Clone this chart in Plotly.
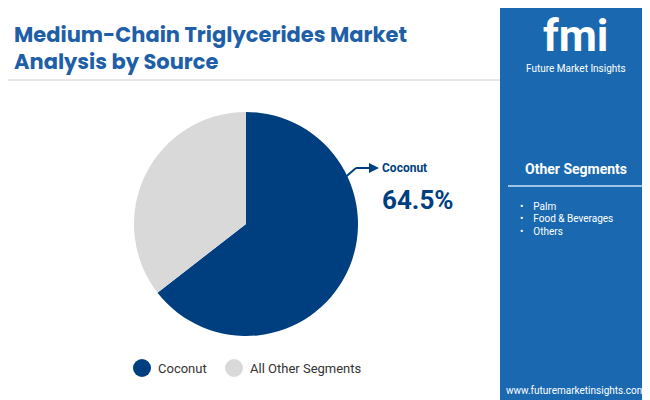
import plotly.graph_objects as go

labels = ['Coconut', 'All Other Segments']
values = [64.5, 35.5]
colors = ['#003f7f', '#d9d9d9']
other_segments = ['Palm', 'Food &amp; Beverages', 'Others']

W, H = 650, 400
def px(x): return x / W
def py(y): return 1 - y / H

fig = go.Figure(go.Pie(
    labels=labels, values=values, marker=dict(colors=colors),
    sort=False, direction='clockwise', rotation=0,
    textinfo='none', hoverinfo='label+percent', showlegend=False,
    domain=dict(x=[px(126), px(350)], y=[py(328), py(104)]),
))

shapes = [
    # right panel
    dict(type='rect', xref='paper', yref='paper', x0=px(492), x1=1, y0=0, y1=1,
         fillcolor='#1a69b0', line_width=0, layer='below'),
    # title underline
    dict(type='line', xref='paper', yref='paper', x0=0, x1=px(492), y0=py(72), y1=py(72),
         line=dict(color='#d0d0d0', width=1)),
    # other segments underline
    dict(type='line', xref='paper', yref='paper', x0=px(500), x1=px(640), y0=py(178), y1=py(178),
         line=dict(color='#9fc3e6', width=2)),
    # bottom stripe
    dict(type='rect', xref='paper', yref='paper', x0=0, x1=px(163), y0=0, y1=py(395),
         fillcolor='#8cc63f', line_width=0),
    dict(type='rect', xref='paper', yref='paper', x0=px(163), x1=px(328), y0=0, y1=py(395),
         fillcolor='#e8572a', line_width=0),
    dict(type='rect', xref='paper', yref='paper', x0=px(328), x1=px(492), y0=0, y1=py(395),
         fillcolor='#7b2d8e', line_width=0),
    # arrow line
    dict(type='line', xref='paper', yref='paper', x0=px(334), x1=px(348), y0=py(172), y1=py(160),
         line=dict(color='#003f7f', width=2)),
    dict(type='line', xref='paper', yref='paper', x0=px(348), x1=px(364), y0=py(160), y1=py(160),
         line=dict(color='#003f7f', width=2)),
]
# legend circles
for cx, c in [(134, colors[0]), (226, colors[1])]:
    shapes.append(dict(type='circle', xref='paper', yref='paper',
                       x0=px(cx - 9), x1=px(cx + 9), y0=py(369), y1=py(351),
                       fillcolor=c, line_width=0))

ann = [
    dict(text='<b>Medium-Chain Triglycerides Market<br>Analysis by Source</b>', x=px(4), y=py(10),
         xanchor='left', yanchor='top', align='left', showarrow=False,
         font=dict(family='Poppins, Roboto, sans-serif', size=21, color='#1f5fa8')),
    dict(text='<b>fmi</b>', x=px(568), y=py(28), xanchor='center', yanchor='middle', showarrow=False,
         font=dict(family='Roboto', size=44, color='white')),
    dict(text='Future Market Insights', x=px(568), y=py(60), xanchor='center', yanchor='middle',
         showarrow=False, font=dict(family='Roboto', size=10, color='white')),
    dict(text='<b>Other Segments</b>', x=px(568), y=py(161), xanchor='center', yanchor='middle',
         showarrow=False, font=dict(family='Roboto', size=14, color='white')),
    dict(text='www.futuremarketinsights.com', x=px(568), y=py(382), xanchor='center',
         yanchor='middle', showarrow=False, font=dict(family='Roboto', size=10, color='white')),
    dict(text='<b>Coconut</b>', x=px(372), y=py(160), xanchor='left', yanchor='middle',
         showarrow=False, font=dict(family='Roboto', size=12, color='#003f7f')),
    dict(text='<b>64.5%</b>', x=px(372), y=py(192), xanchor='left', yanchor='middle',
         showarrow=False, font=dict(family='Roboto', size=26, color='#003f7f')),
    dict(x=px(371), y=py(160), ax=-10, ay=0, xref='paper', yref='paper',
         text='', showarrow=True, arrowhead=2,
         arrowsize=1, arrowwidth=2, arrowcolor='#003f7f'),
    dict(text='Coconut', x=px(148), y=py(360), xanchor='left', yanchor='middle', showarrow=False,
         font=dict(family='Roboto', size=13, color='#333')),
    dict(text='All Other Segments', x=px(240), y=py(360), xanchor='left', yanchor='middle',
         showarrow=False, font=dict(family='Roboto', size=13, color='#333')),
]
for i, s in enumerate(other_segments):
    ann.append(dict(text='•&nbsp;&nbsp;&nbsp;&nbsp;' + s, x=px(510), y=py(198 + i * 12.5),
                    xanchor='left', yanchor='middle', showarrow=False,
                    font=dict(family='Roboto', size=10, color='white')))

fig.update_layout(width=W, height=H, margin=dict(l=0, r=0, t=0, b=0),
                  paper_bgcolor='white', shapes=shapes, annotations=ann)
fig.write_html('out.html')
